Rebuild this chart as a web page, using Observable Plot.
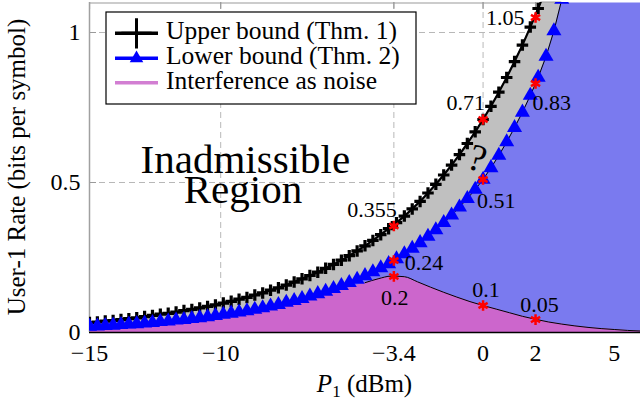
<!DOCTYPE html>
<html><head><meta charset="utf-8">
<script src="https://cdn.jsdelivr.net/npm/d3@7"></script>
<script src="https://cdn.jsdelivr.net/npm/@observablehq/plot@0.6"></script>
<style>
html,body{margin:0;padding:0;background:#fff;}
#chart{position:relative;width:640px;height:407px;}
</style></head><body><div id="chart"></div>
<script>
// ---------- data ----------
const p1 = [-15,-14.7,-14.4,-14.1,-13.8,-13.5,-13.2,-12.9,-12.6,-12.3,-12,-11.7,-11.4,-11.1,-10.8,-10.5,-10.2,-9.9,-9.6,-9.3,-9,-8.7,-8.4,-8.1,-7.8,-7.5,-7.2,-6.9,-6.6,-6.3,-6,-5.7,-5.4,-5.1,-4.8,-4.5,-4.2,-3.9,-3.6,-3.3,-3,-2.7,-2.4,-2.1,-1.8,-1.5,-1.2,-0.9,-0.6,-0.3,0,0.3,0.6,0.9,1.2,1.5,1.8,2.1,2.4,2.7,3.0];
const upperBound = [0.033,0.035,0.038,0.040,0.043,0.046,0.049,0.053,0.057,0.061,0.064,0.068,0.073,0.077,0.082,0.087,0.092,0.098,0.104,0.111,0.117,0.125,0.132,0.141,0.149,0.158,0.168,0.179,0.190,0.201,0.214,0.227,0.241,0.256,0.272,0.289,0.307,0.326,0.346,0.366,0.388,0.412,0.437,0.465,0.494,0.525,0.558,0.593,0.630,0.669,0.710,0.754,0.801,0.850,0.903,0.958,1.018,1.080,1.147,1.218,1.293];
const lowerBound = [0.020,0.021,0.023,0.024,0.026,0.028,0.029,0.031,0.033,0.036,0.038,0.041,0.043,0.046,0.049,0.052,0.056,0.060,0.064,0.068,0.072,0.077,0.082,0.088,0.093,0.100,0.106,0.113,0.121,0.129,0.137,0.146,0.156,0.166,0.177,0.189,0.202,0.215,0.229,0.245,0.262,0.280,0.299,0.320,0.342,0.366,0.391,0.418,0.446,0.477,0.510,0.549,0.590,0.635,0.683,0.734,0.790,0.850,0.920,1.005,1.110];
const ianP1 = [-15,-14.5,-14,-13.5,-13,-12.5,-12,-11.5,-11,-10.5,-10,-9.5,-9,-8.5,-8,-7.5,-7,-6.5,-6,-5.5,-5,-4.5,-4,-3.5,-3,-2.5,-2,-1.5,-1,-0.5,0,0.5,1,1.5,2,2.5,3,3.5,4,4.5,5,5.5,6];
const ianRate = [0.008,0.010,0.013,0.016,0.019,0.022,0.026,0.030,0.035,0.040,0.046,0.053,0.060,0.069,0.078,0.088,0.099,0.111,0.124,0.138,0.152,0.166,0.179,0.188,0.186,0.169,0.151,0.134,0.118,0.103,0.090,0.078,0.066,0.054,0.044,0.035,0.028,0.022,0.017,0.013,0.010,0.007,0.005];
const markP1 = [-3.4,0,2,-3.4,0,2,-3.4,0,2];
const markRate = [0.355,0.71,1.05,0.24,0.51,0.83,0.187,0.09,0.043];
const markLabels = ["0.355","0.71","1.05","0.24","0.51","0.83","0.2","0.1","0.05"];
const xTicks = [-15,-10,-3.4,0,2,5];
const yTicks = [0,0.5,1];
const legendLabels = ["Upper bound (Thm. 1)","Lower bound (Thm. 2)","Interference as noise"];
const regionLines = ["Inadmissible","Region"];
const regionX = [-9.06,-9.15];
const regionY = [0.577,0.475];
const questionMark = {x: -0.22, y: 0.58, text: "?"};
const xLabel = ["P","1"," (dBm)"];
const yLabel = "User-1 Rate (bits per symbol)";
const X_DOMAIN = [-15, 6];
const Y_DOMAIN = [0, 1.1];

// ---------- styles ----------
const BLUE_FILL = "#7a7aef", GRAY_FILL = "#c0c0c0", PINK_FILL = "#cc66cc", PINK_LINE = "#d27ed2";
const FONT = "'Liberation Serif','Times New Roman',serif";

const bounds = p1.map((x, i) => ({x, u: upperBound[i], l: lowerBound[i]}));
const ian = ianP1.map((x, i) => ({x, r: ianRate[i]}));
const marks = markP1.map((x, i) => ({x, y: markRate[i], label: markLabels[i]}));
const regions = regionLines.map((t, i) => ({t, x: regionX[i], y: regionY[i]}));

// label placement around each red marker (anchor, dx, dy)
const place = [["end",3,-16],["end",2,-17],["end",-11,0],["start",11,2],["start",-6,21],["start",-3,19],["middle",1,22],["middle",3,-16],["middle",4,-15]];

const fmt = d => d < 0 ? "\u2212" + Math.abs(d) : String(d);
const dash = "6,4";
const gridColor = "#b8b8b8";

const textMarks = marks.map((d, i) => Plot.text([d], {
  x: "x", y: "y", text: "label", textAnchor: place[i][0], dx: place[i][1], dy: place[i][2],
  fontSize: 22, fontFamily: FONT, fill: "black"
}));

const plot = Plot.plot({
  width: 640, height: 407,
  marginLeft: 89, marginRight: 0, marginTop: 2, marginBottom: 75,
  x: {domain: X_DOMAIN, label: null},
  y: {domain: Y_DOMAIN, label: null},
  style: {fontFamily: FONT, fontSize: "24px", background: "white", overflow: "visible"},
  marks: [
    Plot.frame({fill: BLUE_FILL, stroke: "none"}),
    Plot.areaY(bounds, {x: "x", y1: "u", y2: () => Y_DOMAIN[1], fill: "white", clip: true}),
    Plot.areaY(bounds, {x: "x", y1: "l", y2: "u", fill: GRAY_FILL, clip: true}),
    Plot.areaY(ian, {x: "x", y: "r", fill: PINK_FILL, clip: true}),
    // these five rule marks get clipped to the white region
    Plot.ruleX(xTicks.filter(d => d > X_DOMAIN[0]), {stroke: gridColor, strokeDasharray: dash}),
    Plot.ruleY(yTicks.filter(d => d > 0), {stroke: gridColor, strokeDasharray: dash}),
    Plot.ruleX(xTicks, {stroke: "#9a9a9a", strokeWidth: 1.2, insetBottom: 323}),
    Plot.ruleY(yTicks, {stroke: "#9a9a9a", strokeWidth: 1.2, insetRight: 544}),
    Plot.ruleY([Y_DOMAIN[1]], {stroke: "#9a9a9a", strokeWidth: 2}),
    Plot.ruleX([X_DOMAIN[0]], {stroke: "#a0a0a0", strokeWidth: 1.5}),
    Plot.ruleY([0], {stroke: "black", strokeWidth: 1.5}),
    Plot.line(ian.filter(d => d.x >= -4.5), {x: "x", y: "r", stroke: "black", strokeWidth: 1, curve: "monotone-x", clip: true}),
    Plot.line(bounds, {x: "x", y: "l", stroke: "black", strokeWidth: 1, clip: true}),
    Plot.line(bounds, {x: "x", y: "u", stroke: "black", strokeWidth: 2.2, clip: true}),
    Plot.dot(bounds, {x: "x", y: "u", symbol: "plus", r: 3.8, stroke: "black", strokeWidth: 3.2, clip: true}),
    Plot.dot(bounds, {x: "x", y: "l", symbol: "triangle", r: 5.6, fill: "#0000ff", stroke: "none", clip: true}),
    Plot.dot(marks, {x: "x", y: "y", symbol: "asterisk", r: 5, stroke: "#ff0000", strokeWidth: 2.5}),
    ...textMarks,
    Plot.text(regions, {x: "x", y: "y", text: "t", fontSize: 41, fontFamily: FONT, fill: "black"}),
    Plot.text([questionMark], {x: "x", y: "y", text: "text", fontSize: 38, rotate: 18, fontFamily: FONT, fill: "black"}),
    Plot.axisX(xTicks, {tickSize: 0, tickPadding: 11, tickFormat: fmt, fontSize: 24, fontFamily: FONT, label: null}),
    Plot.axisY(yTicks, {tickSize: 0, tickPadding: 9, tickFormat: d => String(d), fontSize: 24, fontFamily: FONT, label: null})
  ]
});

const svg = d3.select(plot);
// clip grid/ticks/top border to the white (inadmissible) region
const areaGroups = svg.selectAll('g[aria-label="area"]').nodes();
const whitePath = areaGroups.length ? d3.select(areaGroups[0]).select("path").node() : null;
if (whitePath) {
  const d = whitePath.getAttribute("d");
  svg.insert("defs", ":first-child").append("clipPath").attr("id", "white-clip").append("path").attr("d", d);
  const rules = svg.selectAll('g[aria-label="rule"]').nodes();
  rules.slice(0, 5).forEach(n => n.setAttribute("clip-path", "url(#white-clip)"));
}

// axis titles
const xl = svg.append("text").attr("x", 364.5).attr("y", 392).attr("text-anchor", "middle")
  .attr("font-family", FONT).attr("font-size", 25).attr("fill", "black");
xl.append("tspan").attr("font-style", "italic").text(xLabel[0]);
xl.append("tspan").attr("font-size", 17).attr("dy", 5).text(xLabel[1]);
xl.append("tspan").attr("dy", -5).text(xLabel[2]);
svg.append("text").attr("transform", "translate(25,167) rotate(-90)").attr("text-anchor", "middle")
  .attr("font-family", FONT).attr("font-size", 25).attr("fill", "black").text(yLabel);

// legend
const lg = svg.append("g");
lg.append("rect").attr("x", 106).attr("y", 12).attr("width", 310).attr("height", 92)
  .attr("fill", "white").attr("stroke", "black").attr("stroke-width", 1.2);
const rowY = [33.3, 58.3, 82.7];
const sw = [
  {stroke: "black", w: 3.5, sym: d3.symbolPlus, size: 300, fill: "none", sstroke: "black", sw: 3},
  {stroke: "#0000ff", w: 3.5, sym: d3.symbolTriangle, size: 80, fill: "#0000ff", sstroke: "none", sw: 0},
  {stroke: PINK_LINE, w: 3.5, sym: null}
];
legendLabels.forEach((t, i) => {
  const y = rowY[i], s = sw[i];
  lg.append("line").attr("x1", 115).attr("x2", 158).attr("y1", y).attr("y2", y)
    .attr("stroke", s.stroke).attr("stroke-width", s.w);
  if (s.sym) lg.append("path").attr("d", d3.symbol(s.sym, s.size)())
    .attr("transform", `translate(136.5,${y})`).attr("fill", s.fill).attr("stroke", s.sstroke).attr("stroke-width", s.sw);
  lg.append("text").attr("x", 166).attr("y", y + 6).attr("text-anchor", "start").attr("font-family", FONT).attr("font-size", 25.5)
    .attr("fill", "black").text(t);
});

document.getElementById("chart").appendChild(plot);
</script></body></html>
